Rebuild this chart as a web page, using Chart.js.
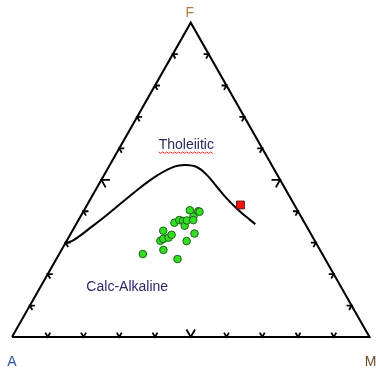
<!DOCTYPE html>
<html>
<head>
<meta charset="utf-8">
<script src="https://cdn.jsdelivr.net/npm/chart.js@4"></script>
<style>
  body { margin: 0; background: #fff; }
  #wrap { width: 376px; height: 371px; }
</style>
</head>
<body>
<div id="wrap"><canvas id="afm"></canvas></div>
<script>
// samples, in percent of A / F / M
const sampleA = [50.2, 43.8, 41.3, 43.2, 42.1, 40.8, 40.4, 39.1, 35.9, 32.5, 36.4, 34.6, 33.7, 34.0, 32.6, 30.1, 30.1, 30.7, 27.9, 27.6];
const sampleF = [26.4, 27.7, 24.8, 30.6, 31.2, 33.8, 31.6, 32.5, 30.5, 32.9, 36.4, 37.2, 36.9, 35.4, 37.1, 40.3, 38.3, 37.2, 40.0, 39.8];
const sampleM = [23.4, 28.5, 33.9, 26.2, 26.7, 25.4, 28.0, 28.4, 33.6, 34.6, 27.3, 28.2, 29.4, 30.6, 30.4, 29.6, 31.6, 32.1, 32.1, 32.5];

// the single red sample
const markA = [15.1];
const markF = [42.0];
const markM = [42.9];

// tholeiitic / calc-alkaline divide
const divideA = [70.2, 67.2, 60.1, 53.3, 46.6, 39.9, 33.5, 27.5, 24.1, 21.2, 19.7, 18.8, 17.9, 16.7, 15.4, 14.0];
const divideF = [29.8, 30.9, 35.1, 39.3, 43.6, 47.8, 51.5, 54.2, 54.7, 54.0, 51.5, 47.8, 44.1, 40.9, 38.3, 35.9];
const divideM = [0.0, 1.9, 4.8, 7.4, 9.8, 12.3, 15.0, 18.3, 21.2, 24.8, 28.8, 33.4, 38.0, 42.4, 46.3, 50.1];

// triangle outline A -> M -> F -> A
const outlineA = [100, 0, 0, 100];
const outlineF = [0, 0, 100, 0];
const outlineM = [0, 100, 0, 0];

const tickSteps = [10, 20, 30, 40, 50, 60, 70, 80, 90];

const H = Math.sqrt(3) / 2;

function toXY(a, f, m) {
  const s = a + f + m;
  return { x: (m + f / 2) / s, y: (f / s) * H };
}

function series(as, fs, ms) {
  return as.map((a, i) => toXY(a, fs[i], ms[i]));
}

// little chevrons along each side, arms parallel to the other two sides
function buildTicks() {
  const pts = [];
  const gap = { x: null, y: null };
  tickSteps.forEach(s => {
    const t = s / 100;
    const L = s === 50 ? 0.024 : 0.014;
    // bottom side A-M
    pts.push({ x: t - 0.5 * L, y: H * L }, { x: t, y: 0 }, { x: t + 0.5 * L, y: H * L }, gap);
    // left side A-F
    let px = 0.5 * t, py = H * t;
    pts.push({ x: px + L, y: py }, { x: px, y: py }, { x: px + 0.5 * L, y: py - H * L }, gap);
    // right side M-F
    px = 1 - 0.5 * t;
    pts.push({ x: px - L, y: py }, { x: px, y: py }, { x: px - 0.5 * L, y: py - H * L }, gap);
  });
  return pts;
}

const labelPlugin = {
  id: 'afmLabels',
  afterDatasetsDraw(chart) {
    const { ctx, scales: { x, y } } = chart;
    ctx.save();
    ctx.font = '14px "Liberation Sans", Arial, sans-serif';
    ctx.textAlign = 'center';
    ctx.textBaseline = 'alphabetic';

    ctx.fillStyle = '#b27a35';
    ctx.fillText('F', x.getPixelForValue(0.5) - 1, 17);
    ctx.fillStyle = '#2d55a8';
    ctx.fillText('A', x.getPixelForValue(0), 366);
    ctx.fillStyle = '#6b4a2c';
    ctx.fillText('M', x.getPixelForValue(1) + 1, 366);

    ctx.fillStyle = '#2a2a5a';
    const tx = x.getPixelForValue(0.4876), ty = y.getPixelForValue(0.5317) + 5;
    ctx.fillText('Tholeiitic', tx, ty);
    // spell-check squiggle
    const w = ctx.measureText('Tholeiitic').width;
    ctx.strokeStyle = '#ee2222';
    ctx.lineWidth = 1;
    ctx.beginPath();
    for (let i = 0; i <= w; i += 2) {
      const yy = ty + 3 + (i % 4 === 0 ? 0 : 1.5);
      if (i === 0) ctx.moveTo(tx - w / 2 + i, yy); else ctx.lineTo(tx - w / 2 + i, yy);
    }
    ctx.stroke();

    ctx.fillStyle = '#2c2868';
    ctx.fillText('Calc-Alkaline', x.getPixelForValue(0.3223), y.getPixelForValue(0.1405) + 5);
    ctx.restore();
  }
};

const ctx = document.getElementById('afm').getContext('2d');
new Chart(ctx, {
  type: 'scatter',
  data: {
    datasets: [
      {
        data: series(sampleA, sampleF, sampleM),
        pointRadius: 3.8,
        pointBackgroundColor: '#33dd22',
        pointBorderColor: '#1f5f1f',
        pointBorderWidth: 1,
        clip: false
      },
      {
        data: series(markA, markF, markM),
        pointStyle: 'rect',
        pointRadius: 5.5,
        pointBackgroundColor: '#ff1111',
        pointBorderColor: '#661111',
        pointBorderWidth: 1,
        clip: false
      },
      {
        data: series(divideA, divideF, divideM),
        showLine: true,
        pointRadius: 0,
        borderColor: '#000',
        borderWidth: 2,
        tension: 0.4,
        clip: false
      },
      {
        data: buildTicks(),
        showLine: true,
        pointRadius: 0,
        borderColor: '#000',
        borderWidth: 1.8,
        spanGaps: false,
        clip: false
      },
      {
        data: series(outlineA, outlineF, outlineM),
        showLine: true,
        pointRadius: 0,
        borderColor: '#000',
        borderWidth: 2,
        borderJoinStyle: 'miter',
        clip: false
      }
    ]
  },
  options: {
    responsive: true,
    maintainAspectRatio: false,
    animation: false,
    events: [],
    layout: { padding: { left: 12, right: 1, top: 22, bottom: 34 } },
    scales: {
      x: { type: 'linear', min: 0, max: 1, display: false },
      y: { type: 'linear', min: 0, max: 315 / 363, display: false }
    },
    plugins: {
      legend: { display: false },
      tooltip: { enabled: false }
    }
  },
  plugins: [labelPlugin]
});
</script>
</body>
</html>
